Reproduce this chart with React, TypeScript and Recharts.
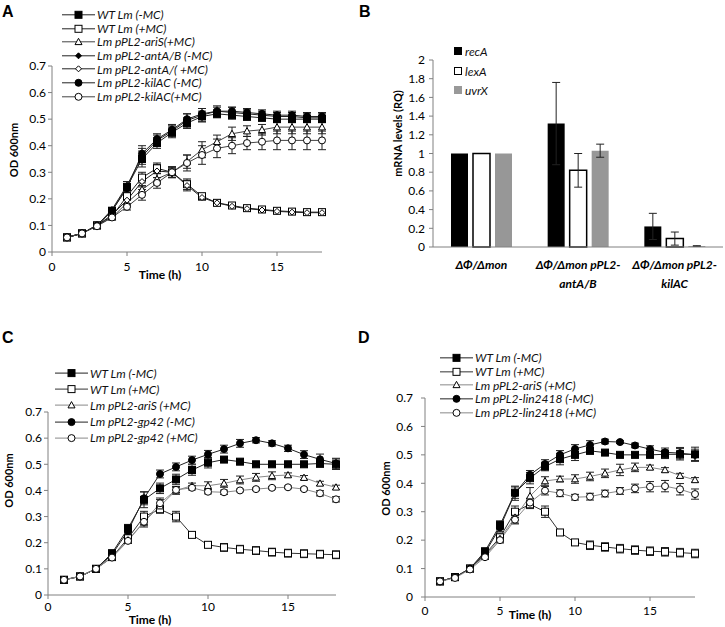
import React from 'react';
import { LineChart, Line, XAxis, YAxis, Legend, ErrorBar, BarChart, Bar } from 'recharts';

const FONT = 'Lato, "Open Sans", sans-serif';
const AXIS = '#808080';

// shared time axis (h)
const hours = [1, 2, 3, 4, 5, 6, 7, 8, 9, 10, 11, 12, 13, 14, 15, 16, 17, 18];
const timeTicks = [0, 5, 10, 15];
const odTicks = [0, 0.1, 0.2, 0.3, 0.4, 0.5, 0.6, 0.7];

// ---- panel A ----
const aWtMinus = [0.055, 0.07, 0.1, 0.155, 0.245, 0.35, 0.41, 0.45, 0.485, 0.51, 0.52, 0.515, 0.51, 0.505, 0.5, 0.5, 0.5, 0.5];
const aWtMinusErr = [0.003, 0.004, 0.005, 0.01, 0.02, 0.03, 0.02, 0.02, 0.02, 0.02, 0.015, 0.015, 0.015, 0.012, 0.012, 0.012, 0.012, 0.012];
const aWtPlus = [0.055, 0.07, 0.1, 0.135, 0.21, 0.28, 0.315, 0.3, 0.255, 0.21, 0.185, 0.175, 0.165, 0.16, 0.155, 0.152, 0.15, 0.15];
const aWtPlusErr = [0.003, 0.004, 0.005, 0.008, 0.015, 0.02, 0.02, 0.02, 0.02, 0.01, 0.01, 0.01, 0.01, 0.01, 0.01, 0.01, 0.01, 0.01];
const aAriSPlus = [0.055, 0.07, 0.1, 0.13, 0.185, 0.235, 0.275, 0.3, 0.34, 0.385, 0.415, 0.445, 0.455, 0.46, 0.47, 0.47, 0.47, 0.47];
const aAriSPlusErr = [0.003, 0.004, 0.005, 0.008, 0.012, 0.015, 0.02, 0.02, 0.025, 0.03, 0.025, 0.025, 0.02, 0.02, 0.025, 0.025, 0.025, 0.025];
const aAntMinus = [0.055, 0.07, 0.1, 0.16, 0.25, 0.36, 0.42, 0.455, 0.495, 0.515, 0.53, 0.525, 0.52, 0.515, 0.51, 0.51, 0.505, 0.505];
const aAntMinusErr = [0.003, 0.004, 0.005, 0.008, 0.015, 0.03, 0.02, 0.02, 0.025, 0.025, 0.02, 0.02, 0.015, 0.015, 0.015, 0.015, 0.015, 0.015];
const aAntPlus = [0.055, 0.07, 0.1, 0.14, 0.195, 0.265, 0.305, 0.3, 0.25, 0.205, 0.185, 0.172, 0.163, 0.158, 0.153, 0.15, 0.148, 0.148];
const aAntPlusErr = [0.003, 0.004, 0.005, 0.008, 0.015, 0.02, 0.025, 0.02, 0.02, 0.01, 0.008, 0.008, 0.008, 0.008, 0.008, 0.008, 0.008, 0.008];
const aKilMinus = [0.055, 0.07, 0.1, 0.155, 0.24, 0.37, 0.425, 0.46, 0.5, 0.52, 0.53, 0.53, 0.525, 0.52, 0.515, 0.515, 0.51, 0.51];
const aKilMinusErr = [0.003, 0.004, 0.005, 0.008, 0.015, 0.03, 0.02, 0.02, 0.02, 0.02, 0.015, 0.015, 0.015, 0.015, 0.015, 0.015, 0.015, 0.015];
const aKilPlus = [0.055, 0.07, 0.097, 0.13, 0.17, 0.215, 0.26, 0.3, 0.335, 0.365, 0.39, 0.4, 0.41, 0.415, 0.42, 0.42, 0.42, 0.42];
const aKilPlusErr = [0.003, 0.004, 0.005, 0.008, 0.012, 0.02, 0.02, 0.02, 0.03, 0.035, 0.035, 0.03, 0.025, 0.03, 0.035, 0.035, 0.035, 0.035];

// ---- panel B ----
const bCategories = ['ΔΦ/Δmon', 'ΔΦ/Δmon pPL2-antA/B', 'ΔΦ/Δmon pPL2-kilAC'];
const bRecA = [1.0, 1.32, 0.22];
const bRecAErr = [0, 0.44, 0.14];
const bLexA = [1.0, 0.82, 0.09];
const bLexAErr = [0, 0.18, 0.07];
const bUvrX = [1.0, 1.03, 0.01];
const bUvrXErr = [0, 0.07, 0.004];
const rqTicks = [0, 0.2, 0.4, 0.6, 0.8, 1, 1.2, 1.4, 1.6, 1.8, 2];

// ---- panel C ----
const cWtMinus = [0.058, 0.071, 0.1, 0.16, 0.255, 0.364, 0.408, 0.442, 0.478, 0.506, 0.518, 0.51, 0.5, 0.5, 0.5, 0.5, 0.503, 0.5];
const cWtMinusErr = [0.003, 0.004, 0.005, 0.008, 0.015, 0.03, 0.02, 0.02, 0.02, 0.02, 0.01, 0.005, 0.005, 0.005, 0.008, 0.01, 0.015, 0.02];
const cWtPlus = [0.058, 0.071, 0.1, 0.145, 0.217, 0.3, 0.328, 0.3, 0.23, 0.192, 0.182, 0.175, 0.17, 0.164, 0.16, 0.158, 0.156, 0.154];
const cWtPlusErr = [0.003, 0.004, 0.005, 0.008, 0.015, 0.02, 0.015, 0.02, 0.008, 0.01, 0.015, 0.015, 0.015, 0.015, 0.015, 0.015, 0.015, 0.015];
const cAriSPlus = [0.058, 0.071, 0.1, 0.145, 0.21, 0.28, 0.34, 0.4, 0.418, 0.418, 0.427, 0.44, 0.45, 0.456, 0.459, 0.449, 0.427, 0.412];
const cAriSPlusErr = [0.003, 0.004, 0.005, 0.008, 0.012, 0.02, 0.025, 0.015, 0.01, 0.015, 0.015, 0.015, 0.015, 0.015, 0.008, 0.008, 0.008, 0.008];
const cGpMinus = [0.058, 0.071, 0.1, 0.155, 0.245, 0.37, 0.463, 0.49, 0.516, 0.538, 0.558, 0.58, 0.592, 0.58, 0.561, 0.537, 0.519, 0.503];
const cGpMinusErr = [0.003, 0.004, 0.005, 0.008, 0.015, 0.025, 0.015, 0.015, 0.015, 0.015, 0.015, 0.015, 0.01, 0.01, 0.012, 0.015, 0.02, 0.02];
const cGpPlus = [0.058, 0.071, 0.1, 0.143, 0.207, 0.28, 0.351, 0.402, 0.41, 0.395, 0.393, 0.4, 0.405, 0.41, 0.412, 0.405, 0.389, 0.366];
const cGpPlusErr = [0.003, 0.004, 0.005, 0.008, 0.01, 0.015, 0.02, 0.01, 0.008, 0.008, 0.008, 0.005, 0.005, 0.005, 0.005, 0.005, 0.01, 0.01];

// ---- panel D ----
const dWtMinus = [0.055, 0.07, 0.1, 0.161, 0.253, 0.367, 0.418, 0.459, 0.485, 0.5, 0.514, 0.508, 0.5, 0.5, 0.5, 0.502, 0.502, 0.502];
const dWtMinusErr = [0.003, 0.004, 0.005, 0.008, 0.015, 0.02, 0.02, 0.015, 0.02, 0.02, 0.01, 0.005, 0.005, 0.005, 0.008, 0.015, 0.02, 0.025];
const dWtPlus = [0.055, 0.07, 0.1, 0.15, 0.21, 0.3, 0.326, 0.3, 0.227, 0.192, 0.182, 0.176, 0.17, 0.165, 0.161, 0.159, 0.156, 0.153];
const dWtPlusErr = [0.003, 0.004, 0.005, 0.008, 0.015, 0.02, 0.015, 0.02, 0.008, 0.01, 0.015, 0.015, 0.015, 0.015, 0.015, 0.015, 0.015, 0.015];
const dAriSPlus = [0.055, 0.07, 0.1, 0.145, 0.205, 0.28, 0.355, 0.408, 0.415, 0.415, 0.424, 0.435, 0.447, 0.456, 0.456, 0.447, 0.427, 0.412];
const dAriSPlusErr = [0.003, 0.004, 0.005, 0.008, 0.012, 0.02, 0.03, 0.015, 0.01, 0.015, 0.015, 0.015, 0.02, 0.015, 0.008, 0.008, 0.008, 0.008];
const dLinMinus = [0.055, 0.07, 0.1, 0.155, 0.245, 0.365, 0.43, 0.468, 0.5, 0.521, 0.535, 0.547, 0.545, 0.533, 0.52, 0.509, 0.506, 0.5];
const dLinMinusErr = [0.003, 0.004, 0.005, 0.008, 0.015, 0.025, 0.015, 0.015, 0.015, 0.015, 0.015, 0.008, 0.005, 0.008, 0.012, 0.015, 0.02, 0.02];
const dLinPlus = [0.055, 0.067, 0.097, 0.14, 0.2, 0.272, 0.332, 0.374, 0.365, 0.351, 0.353, 0.364, 0.373, 0.382, 0.388, 0.39, 0.379, 0.362];
const dLinPlusErr = [0.003, 0.004, 0.005, 0.008, 0.01, 0.015, 0.015, 0.015, 0.012, 0.01, 0.012, 0.012, 0.012, 0.015, 0.018, 0.02, 0.02, 0.018];

type Shape = 'square' | 'circle' | 'triangle' | 'diamond';
interface Series {
  key: string;
  name: string;
  shape: Shape;
  filled: boolean;
  size: number;
  color: string;
  values: number[];
  errors: number[];
}

const aSeries: Series[] = [
  { key: 'wtM', name: 'WT Lm (-MC)', shape: 'square', filled: true, size: 7, color: '#222', values: aWtMinus, errors: aWtMinusErr },
  { key: 'wtP', name: 'WT Lm (+MC)', shape: 'square', filled: false, size: 7, color: '#222', values: aWtPlus, errors: aWtPlusErr },
  { key: 'ariP', name: 'Lm pPL2-ariS(+MC)', shape: 'triangle', filled: false, size: 7, color: '#444', values: aAriSPlus, errors: aAriSPlusErr },
  { key: 'antM', name: 'Lm pPL2-antA/B (-MC)', shape: 'diamond', filled: true, size: 6, color: '#222', values: aAntMinus, errors: aAntMinusErr },
  { key: 'antP', name: 'Lm pPL2-antA/( +MC)', shape: 'diamond', filled: false, size: 6, color: '#222', values: aAntPlus, errors: aAntPlusErr },
  { key: 'kilM', name: 'Lm pPL2-kilAC (-MC)', shape: 'circle', filled: true, size: 7, color: '#222', values: aKilMinus, errors: aKilMinusErr },
  { key: 'kilP', name: 'Lm pPL2-kilAC(+MC)', shape: 'circle', filled: false, size: 7, color: '#444', values: aKilPlus, errors: aKilPlusErr },
];

const cSeries: Series[] = [
  { key: 'wtM', name: 'WT Lm (-MC)', shape: 'square', filled: true, size: 7, color: '#222', values: cWtMinus, errors: cWtMinusErr },
  { key: 'wtP', name: 'WT Lm (+MC)', shape: 'square', filled: false, size: 7, color: '#333', values: cWtPlus, errors: cWtPlusErr },
  { key: 'ariP', name: 'Lm pPL2-ariS (+MC)', shape: 'triangle', filled: false, size: 7, color: '#888', values: cAriSPlus, errors: cAriSPlusErr },
  { key: 'gpM', name: 'Lm pPL2-gp42 (-MC)', shape: 'circle', filled: true, size: 7, color: '#222', values: cGpMinus, errors: cGpMinusErr },
  { key: 'gpP', name: 'Lm pPL2-gp42 (+MC)', shape: 'circle', filled: false, size: 7, color: '#888', values: cGpPlus, errors: cGpPlusErr },
];

const dSeries: Series[] = [
  { key: 'wtM', name: 'WT Lm (-MC)', shape: 'square', filled: true, size: 7, color: '#222', values: dWtMinus, errors: dWtMinusErr },
  { key: 'wtP', name: 'WT Lm (+MC)', shape: 'square', filled: false, size: 7, color: '#333', values: dWtPlus, errors: dWtPlusErr },
  { key: 'ariP', name: 'Lm pPL2-ariS (+MC)', shape: 'triangle', filled: false, size: 7, color: '#888', values: dAriSPlus, errors: dAriSPlusErr },
  { key: 'linM', name: 'Lm pPL2-lin2418 (-MC)', shape: 'circle', filled: true, size: 7, color: '#222', values: dLinMinus, errors: dLinMinusErr },
  { key: 'linP', name: 'Lm pPL2-lin2418 (+MC)', shape: 'circle', filled: false, size: 7, color: '#888', values: dLinPlus, errors: dLinPlusErr },
];

function Marker({ cx, cy, shape, filled, size }: { cx: number; cy: number; shape: Shape; filled: boolean; size: number }) {
  const fill = filled ? '#000' : '#fff';
  const h = size / 2;
  if (shape === 'square') {
    return <rect x={cx - h} y={cy - h} width={size} height={size} fill={fill} stroke="#000" strokeWidth={1} />;
  }
  if (shape === 'circle') {
    return <circle cx={cx} cy={cy} r={h} fill={fill} stroke="#000" strokeWidth={1} />;
  }
  if (shape === 'triangle') {
    return <polygon points={`${cx},${cy - h} ${cx + h},${cy + h * 0.8} ${cx - h},${cy + h * 0.8}`} fill={fill} stroke="#000" strokeWidth={1} />;
  }
  return <polygon points={`${cx},${cy - h} ${cx + h},${cy} ${cx},${cy + h} ${cx - h},${cy}`} fill={fill} stroke="#000" strokeWidth={1} />;
}

function buildRows(series: Series[]) {
  return hours.map((h, i) => {
    const row: Record<string, number> = { h };
    series.forEach(s => {
      row[s.key] = s.values[i];
      row[s.key + 'Err'] = s.errors[i];
    });
    return row;
  });
}

function LineLegend({ series, rowH, lineW, fontSize }: { series: Series[]; rowH: number; lineW: number; fontSize: number }) {
  return (
    <div style={{ fontFamily: FONT, fontSize, fontStyle: 'italic', color: '#111' }}>
      {series.map(s => (
        <div key={s.key} style={{ display: 'flex', alignItems: 'center', height: rowH, whiteSpace: 'nowrap' }}>
          <svg width={lineW} height={rowH} style={{ marginRight: 2, flexShrink: 0 }}>
            <line x1={0} x2={lineW} y1={rowH / 2} y2={rowH / 2} stroke={s.color} strokeWidth={1} />
            <Marker cx={lineW / 2} cy={rowH / 2} shape={s.shape} filled={s.filled} size={s.size} />
          </svg>
          <span>{s.name}</span>
        </div>
      ))}
    </div>
  );
}

interface GrowthProps {
  series: Series[];
  left: number;
  top: number;
  width: number;
  height: number;
  margin: { top: number; right: number; bottom: number; left: number };
  yAxisWidth: number;
  yTickMargin: number;
  xTickMargin: number;
  timeDx: number;
  timeOffset: number;
  yLabelOffset: number;
  yLabelDy: number;
  legendLeft: number;
  legendTop: number;
  legendRow: number;
}

function GrowthPanel(p: GrowthProps) {
  const rows = buildRows(p.series);
  return (
    <div style={{ position: 'absolute', left: p.left, top: p.top }}>
      <LineChart width={p.width} height={p.height} data={rows} margin={p.margin}>
        <XAxis
          type="number"
          dataKey="h"
          domain={[0, 18]}
          ticks={timeTicks}
          interval={0}
          height={30}
          tickSize={4}
          tickMargin={p.xTickMargin}
          stroke={AXIS}
          tick={{ fontSize: 12, fill: '#000' }}
          label={{ value: 'Time (h)', position: 'insideBottom', offset: p.timeOffset, dx: p.timeDx, fontSize: 12, fontWeight: 700, fill: '#000' }}
        />
        <YAxis
          type="number"
          domain={[0, 0.7]}
          ticks={odTicks}
          interval={0}
          width={p.yAxisWidth}
          tickSize={4}
          tickMargin={p.yTickMargin}
          stroke={AXIS}
          tick={{ fontSize: 12, fill: '#000' }}
          label={{ value: 'OD 600nm', angle: -90, position: 'insideLeft', offset: p.yLabelOffset, dy: p.yLabelDy, fontSize: 11, fontWeight: 700, fill: '#000', style: { textAnchor: 'middle' } }}
        />
        <Legend
          layout="vertical"
          align="center"
          verticalAlign="middle"
          wrapperStyle={{ left: p.legendLeft, top: p.legendTop, width: 'auto' }}
          content={() => <LineLegend series={p.series} rowH={p.legendRow} lineW={33} fontSize={12} />}
        />
        {p.series.map(s => (
          <Line
            key={s.key}
            dataKey={s.key}
            name={s.name}
            type="linear"
            stroke={s.color}
            strokeWidth={1}
            isAnimationActive={false}
            activeDot={false}
            dot={(d: any) => <Marker key={`${s.key}-${d.index}`} cx={d.cx} cy={d.cy} shape={s.shape} filled={s.filled} size={s.size} />}
          >
            <ErrorBar dataKey={s.key + 'Err'} direction="y" width={4} stroke="#222" strokeWidth={1} />
          </Line>
        ))}
      </LineChart>
    </div>
  );
}

const bData = bCategories.map((name, i) => ({
  name,
  recA: bRecA[i],
  recAErr: bRecAErr[i],
  lexA: bLexA[i],
  lexAErr: bLexAErr[i],
  uvrX: bUvrX[i],
  uvrXErr: bUvrXErr[i],
}));

const bLegend = [
  { name: 'recA', fill: '#000', stroke: '#000' },
  { name: 'lexA', fill: '#fff', stroke: '#000' },
  { name: 'uvrX', fill: '#999', stroke: '#999' },
];

function CategoryTick({ x, y, payload }: any) {
  const v: string = payload.value;
  const cut = v.indexOf('pPL2-');
  const lines = cut >= 0 ? [v.slice(0, cut + 5), v.slice(cut + 5)] : [v];
  return (
    <g>
      {lines.map((ln, i) => (
        <text key={i} x={x} y={y + 22 + i * 19} textAnchor="middle" fontSize={12} fontWeight={700} fontStyle="italic" fill="#000">
          {ln}
        </text>
      ))}
    </g>
  );
}

function BarLegend() {
  return (
    <div style={{ fontFamily: FONT, fontSize: 12, fontStyle: 'italic', color: '#111' }}>
      {bLegend.map(b => (
        <div key={b.name} style={{ display: 'flex', alignItems: 'center', height: 19.5 }}>
          <svg width={9} height={9} style={{ marginRight: 2 }}>
            <rect x={0.5} y={0.5} width={7} height={7} fill={b.fill} stroke={b.stroke} />
          </svg>
          <span>{b.name}</span>
        </div>
      ))}
    </div>
  );
}

function BarsPanel() {
  return (
    <div style={{ position: 'absolute', left: 360, top: 0 }}>
      <BarChart width={365} height={300} data={bData} margin={{ top: 60, right: 2, bottom: 3, left: 0 }} barGap={5} barCategoryGap={18}>
        <XAxis dataKey="name" height={50} tickLine={false} tickSize={0} tickMargin={0} stroke={AXIS} tick={<CategoryTick />} interval={0} />
        <YAxis
          domain={[0, 2]}
          ticks={rqTicks}
          interval={0}
          width={73}
          tickSize={4}
          tickMargin={4}
          stroke={AXIS}
          tick={{ fontSize: 12, fill: '#000' }}
          label={{ value: 'mRNA levels (RQ)', angle: -90, position: 'insideLeft', offset: 38, dy: -20, fontSize: 11, fontWeight: 700, fill: '#000', style: { textAnchor: 'middle' } }}
        />
        <Legend
          layout="vertical"
          align="center"
          verticalAlign="middle"
          wrapperStyle={{ left: 94, top: 42, width: 'auto' }}
          content={() => <BarLegend />}
        />
        <Bar dataKey="recA" fill="#000" isAnimationActive={false}>
          <ErrorBar dataKey="recAErr" direction="y" width={4} stroke="#222" strokeWidth={1} />
        </Bar>
        <Bar dataKey="lexA" fill="#fff" stroke="#000" strokeWidth={1.5} isAnimationActive={false}>
          <ErrorBar dataKey="lexAErr" direction="y" width={4} stroke="#222" strokeWidth={1} />
        </Bar>
        <Bar dataKey="uvrX" fill="#979797" isAnimationActive={false}>
          <ErrorBar dataKey="uvrXErr" direction="y" width={4} stroke="#222" strokeWidth={1} />
        </Bar>
      </BarChart>
    </div>
  );
}

const letterStyle: React.CSSProperties = {
  position: 'absolute',
  fontFamily: '"Liberation Sans", Arial, sans-serif',
  fontWeight: 700,
  fontSize: 16,
  lineHeight: '16px',
};

export default function App() {
  return (
    <div style={{ position: 'absolute', left: 0, top: 0, width: 725, height: 627, background: '#fff', fontFamily: FONT, overflow: 'hidden' }}>
      <GrowthPanel
        series={aSeries}
        left={0}
        top={0}
        width={345}
        height={290}
        margin={{ top: 66, right: 23, bottom: 8, left: 0 }}
        yAxisWidth={52}
        yTickMargin={2}
        xTickMargin={6}
        timeDx={-27}
        timeOffset={3}
        yLabelOffset={14}
        yLabelDy={-9}
        legendLeft={62}
        legendTop={8}
        legendRow={13.6}
      />
      <BarsPanel />
      <GrowthPanel
        series={cSeries}
        left={0}
        top={320}
        width={345}
        height={307}
        margin={{ top: 92, right: 9, bottom: 2, left: 0 }}
        yAxisWidth={48}
        yTickMargin={2}
        xTickMargin={3}
        timeDx={-42}
        timeOffset={1}
        yLabelOffset={9}
        yLabelDy={-23}
        legendLeft={55}
        legendTop={45}
        legendRow={16.2}
      />
      <GrowthPanel
        series={dSeries}
        left={360}
        top={320}
        width={365}
        height={307}
        margin={{ top: 78, right: 30, bottom: 0, left: 0 }}
        yAxisWidth={65}
        yTickMargin={8}
        xTickMargin={5}
        timeDx={-30}
        timeOffset={8}
        yLabelOffset={26}
        yLabelDy={-9}
        legendLeft={80}
        legendTop={31}
        legendRow={13.7}
      />
      <div style={{ ...letterStyle, left: 2, top: 4 }}>A</div>
      <div style={{ ...letterStyle, left: 359, top: 4 }}>B</div>
      <div style={{ ...letterStyle, left: 2, top: 330 }}>C</div>
      <div style={{ ...letterStyle, left: 358, top: 330 }}>D</div>
    </div>
  );
}
